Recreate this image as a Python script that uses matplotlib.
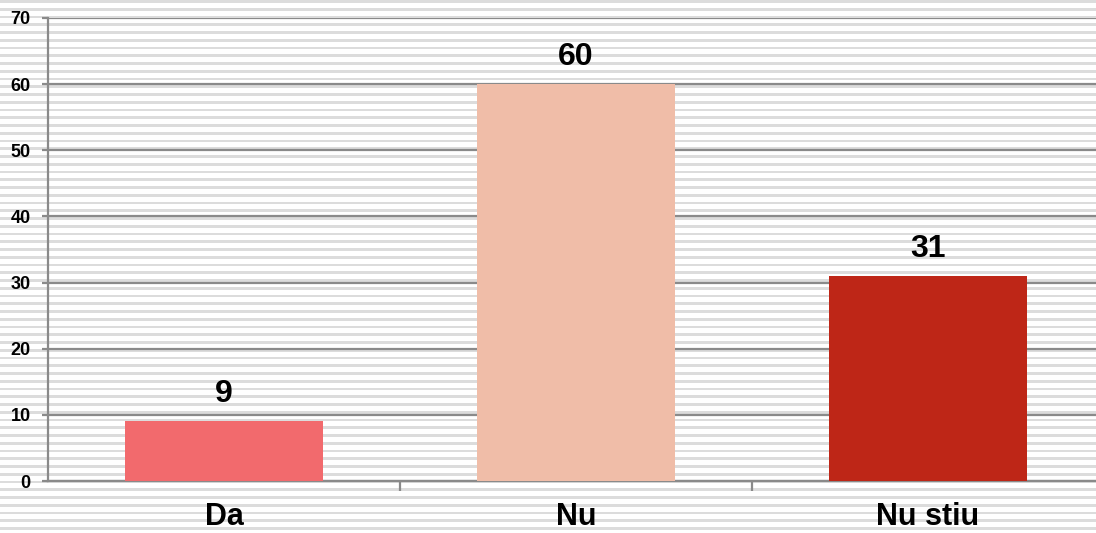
import numpy as np
import matplotlib
matplotlib.use("Agg")
import matplotlib.pyplot as plt

categories = ["Da", "Nu", "Nu stiu"]
values = [9, 60, 31]
colors = ["#F26A6D", "#F0BDA8", "#BE2617"]
y_ticks = [0, 10, 20, 30, 40, 50, 60, 70]

W, H = 1096, 533
fig = plt.figure(figsize=(W / 100, H / 100), dpi=100)
fig.patch.set_facecolor("white")

# striped background over the whole figure
bg = fig.add_axes([0, 0, 1, 1])
bg.set_xlim(0, W)
bg.set_ylim(H, 0)
bg.axis("off")
for y0 in np.arange(0, H, 7.75):
    bg.axhspan(y0, y0 + 2.8, color="#dcdcdc", lw=0)

ax = fig.add_axes([48 / W, 52 / H, 1056 / W, 463 / H])
ax.patch.set_alpha(0)
x = np.arange(len(categories))
ax.bar(x, values, width=0.5625, color=colors, zorder=3)

ax.set_xlim(-0.5, 2.5)
ax.set_ylim(0, 70)
ax.set_yticks(y_ticks)
ax.grid(axis="y", color="#8a8a8a", lw=1.6, zorder=1)
ax.set_axisbelow(True)

for s in ["top", "right"]:
    ax.spines[s].set_visible(False)
for s in ["left", "bottom"]:
    ax.spines[s].set_color("#8a8a8a")
    ax.spines[s].set_linewidth(1.6)

ax.set_xticks(x)
ax.set_xticklabels(categories, fontsize=22, fontweight="bold", family="Liberation Sans")
ax.set_xticks([0.5, 1.5], minor=True)
ax.tick_params(axis="x", which="major", length=0, pad=15)
ax.tick_params(axis="x", which="minor", length=7, width=1.6, color="#8a8a8a")
ax.tick_params(axis="y", length=4.5, width=1.6, color="#8a8a8a", pad=8)
for lab in ax.get_yticklabels():
    lab.set_fontsize(13)
    lab.set_fontweight("bold")
    lab.set_family("Liberation Sans")

for xi, v in zip(x, values):
    ax.annotate(str(v), (xi, v), xytext=(0, 14), textcoords="offset points",
                ha="center", va="baseline", fontsize=23, fontweight="bold",
                family="Liberation Sans")

fig.savefig("out.png", dpi=100)
